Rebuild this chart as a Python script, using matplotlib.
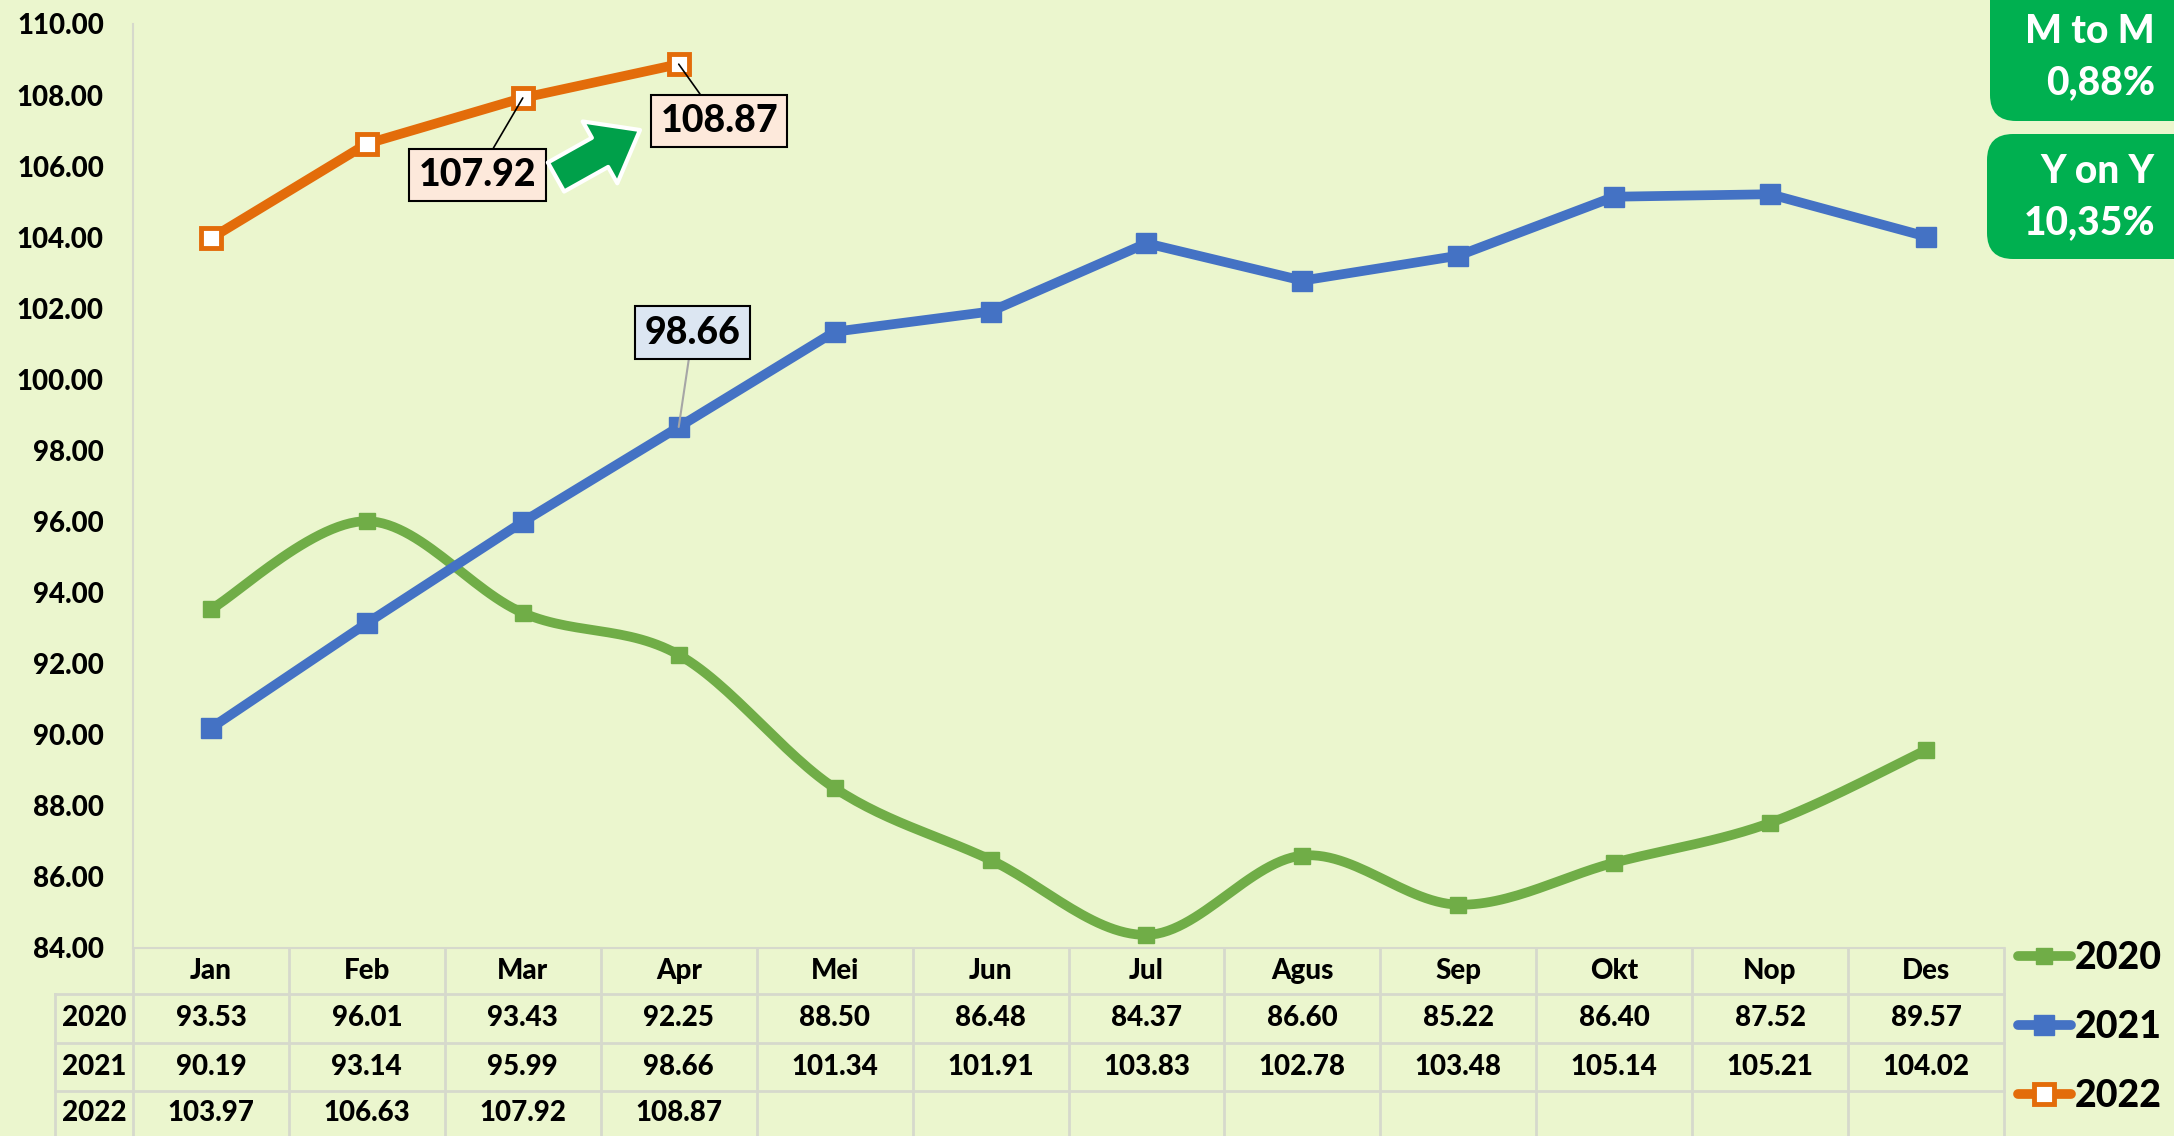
import numpy as np
import matplotlib
matplotlib.use("Agg")
import matplotlib.pyplot as plt
from matplotlib import font_manager
from matplotlib.lines import Line2D
from matplotlib.patches import FancyBboxPatch
from matplotlib.transforms import blended_transform_factory

months = ["Jan", "Feb", "Mar", "Apr", "Mei", "Jun", "Jul", "Agus", "Sep", "Okt", "Nop", "Des"]
v2020 = [93.53, 96.01, 93.43, 92.25, 88.50, 86.48, 84.37, 86.60, 85.22, 86.40, 87.52, 89.57]
v2021 = [90.19, 93.14, 95.99, 98.66, 101.34, 101.91, 103.83, 102.78, 103.48, 105.14, 105.21, 104.02]
v2022 = [103.97, 106.63, 107.92, 108.87]
years = ["2020", "2021", "2022"]
yticks = [84, 86, 88, 90, 92, 94, 96, 98, 100, 102, 104, 106, 108, 110]
mtm_text = "M to M\n0,88%"
yoy_text = "Y on Y\n10,35%"

BG = "#EBF6CE"
GREEN = "#70AD47"
BLUE = "#4472C4"
ORANGE = "#E36C0A"
GRID = "#D6D9CC"
FONT = "Lato"

# pick heaviest available Lato weight (up to 900)
weights = []
for f in font_manager.fontManager.ttflist:
    if f.name == FONT and f.style == "normal":
        w = f.weight if isinstance(f.weight, int) else 400
        weights.append(w)
WT = "bold"
if weights:
    heavy = [w for w in weights if w >= 800]
    WT = max(heavy) if heavy else max(weights)

plt.rcParams["font.family"] = [FONT, "DejaVu Sans"]
plt.rcParams["font.weight"] = WT

W, H = 2174, 1136
fig = plt.figure(figsize=(W / 100, H / 100), dpi=100, facecolor=BG)

def fx(px):
    return px / W

def fy(py):
    return 1 - py / H

ax_l, ax_r, ax_t, ax_b = 133, 2004, 24, 948
ax = fig.add_axes([fx(ax_l), fy(ax_b), fx(ax_r) - fx(ax_l), fy(ax_t) - fy(ax_b)])
ax.set_facecolor(BG)

x = np.arange(len(months))


def smooth(xs, ys, n=30):
    xs = np.asarray(xs, float)
    ys = np.asarray(ys, float)
    P = np.column_stack([xs, ys])
    Pe = np.vstack([P[0], P, P[-1]])
    out = []
    for i in range(len(P) - 1):
        p0, p1, p2, p3 = Pe[i], Pe[i + 1], Pe[i + 2], Pe[i + 3]
        c1 = p1 + (p2 - p0) / 6
        c2 = p2 - (p3 - p1) / 6
        t = np.linspace(0, 1, n)[:, None]
        seg = ((1 - t) ** 3) * p1 + 3 * ((1 - t) ** 2) * t * c1 + 3 * (1 - t) * t ** 2 * c2 + t ** 3 * p2
        out.append(seg if i == 0 else seg[1:])
    out = np.vstack(out)
    return out[:, 0], out[:, 1]

lw = 7.0
ms = 14
sx, sy = smooth(x, v2020)
ax.plot(sx, sy, color=GREEN, lw=lw, solid_capstyle="round", zorder=3)
ax.plot(x, v2020, ls="none", marker="s", ms=ms * 0.85, color=GREEN, zorder=4)
ax.plot(x, v2021, color=BLUE, lw=lw, marker="s", ms=ms, zorder=5, solid_joinstyle="round")
ax.plot(x[:len(v2022)], v2022, color=ORANGE, lw=lw, marker="s", ms=ms,
        mfc="white", mec=ORANGE, mew=3.5, zorder=6, solid_joinstyle="round")

ax.set_xlim(-0.5, len(months) - 0.5)
ax.set_ylim(yticks[0], yticks[-1])
ax.set_yticks(yticks)
ax.set_yticklabels([f"{t:.2f}" for t in yticks], fontsize=20, fontweight=WT)
ax.tick_params(axis="y", length=0, pad=21)
ax.set_xticks([])
for s in ["top", "right"]:
    ax.spines[s].set_visible(False)
ax.spines["left"].set_color(GRID)
ax.spines["left"].set_linewidth(1.5)
ax.spines["bottom"].set_color(GRID)
ax.spines["bottom"].set_linewidth(1.5)

# Data label annotations
bbox_orange = dict(boxstyle="square,pad=0.25", fc="#FDE9DB", ec="black", lw=1.5)
bbox_blue = dict(boxstyle="square,pad=0.25", fc="#DCE6F2", ec="black", lw=1.5)
ax.annotate(f"{v2022[2]:.2f}", xy=(2, v2022[2]), xytext=(1.71, 105.75), fontsize=27,
            fontweight=WT, ha="center", va="center", bbox=bbox_orange,
            arrowprops=dict(arrowstyle="-", color="black", lw=1.2, shrinkA=0, shrinkB=0), zorder=8)
ax.annotate(f"{v2022[3]:.2f}", xy=(3, v2022[3]), xytext=(3.26, 107.27), fontsize=27,
            fontweight=WT, ha="center", va="center", bbox=bbox_orange,
            arrowprops=dict(arrowstyle="-", color="black", lw=1.2, shrinkA=0, shrinkB=0), zorder=8)
ax.annotate(f"{v2021[3]:.2f}", xy=(3, v2021[3]), xytext=(3.09, 101.31), fontsize=27,
            fontweight=WT, ha="center", va="center", bbox=bbox_blue,
            arrowprops=dict(arrowstyle="-", color="#A6A6A6", lw=1.5, shrinkA=0, shrinkB=0), zorder=8)

# Green arrow
ax.annotate("", xy=(fx(640), fy(130)), xytext=(fx(556), fy(177)),
            xycoords="figure fraction", textcoords="figure fraction",
            arrowprops=dict(arrowstyle="simple,head_length=1.1,head_width=1.7,tail_width=0.8",
                            fc="#00A04A", ec="white", lw=3, shrinkA=0, shrinkB=0,
                            mutation_scale=30), zorder=9)

# Table
trans = blended_transform_factory(ax.transData, fig.transFigure)
rows_y = [948, 994, 1043, 1091, 1140]
cw = (ax_r - ax_l) / len(months)
lkw = dict(color=GRID, lw=2, zorder=1)
for i, py in enumerate(rows_y[1:4]):
    fig.add_artist(Line2D([fx(55), fx(ax_r)], [fy(py), fy(py)], **lkw))
fig.add_artist(Line2D([fx(55), fx(55)], [fy(994), fy(1136)], **lkw))
fig.add_artist(Line2D([fx(ax_l), fx(ax_l)], [fy(948), fy(1136)], **lkw))
for k in range(1, len(months) + 1):
    xp = ax_l + k * cw
    fig.add_artist(Line2D([fx(xp), fx(xp)], [fy(948), fy(1136)], **lkw))

tfs = 20
centers = [(rows_y[i] + rows_y[i + 1]) / 2 for i in range(4)]
centers[3] = 1113
for i, m in enumerate(months):
    fig.text(i, fy(centers[0]), m, transform=trans, ha="center", va="center", fontsize=tfs, fontweight=WT)
for r, (yr, vals) in enumerate(zip(years, [v2020, v2021, v2022])):
    yc = fy(centers[r + 1])
    fig.text(fx(94), yc, yr, ha="center", va="center", fontsize=tfs, fontweight=WT)
    for i, v in enumerate(vals):
        fig.text(i, yc, f"{v:.2f}", transform=trans, ha="center", va="center", fontsize=tfs, fontweight=WT)

# Legend
handles = [
    Line2D([], [], color=GREEN, lw=lw, marker="s", ms=ms * 0.85, solid_capstyle="round"),
    Line2D([], [], color=BLUE, lw=lw, marker="s", ms=ms, solid_capstyle="round"),
    Line2D([], [], color=ORANGE, lw=lw, marker="s", ms=ms, mfc="white", mec=ORANGE, mew=3.5, solid_capstyle="round"),
]
fig.legend(handles, years, loc="center left", bbox_to_anchor=(fx(2018), fy(1027)),
           frameon=False, prop=dict(family=FONT, weight=WT, size=27),
           handlelength=1.4, handletextpad=0.1, labelspacing=0.93, borderpad=0, borderaxespad=0)

# Green info boxes
for (x0, y0, x1, y1, txt, ty) in [(1990, -30, 2200, 121, mtm_text, 57), (1987, 134, 2200, 259, yoy_text, 197)]:
    box = FancyBboxPatch((fx(x0), fy(y1)), fx(x1) - fx(x0), fy(y0) - fy(y1),
                         boxstyle="round,pad=0,rounding_size=0.012", transform=fig.transFigure,
                         fc="#00B050", ec="none", zorder=10, mutation_aspect=W / H)
    fig.add_artist(box)
    fig.text(fx(2155), fy(ty), txt, ha="right", va="center", fontsize=28, fontweight=WT,
             color="white", linespacing=1.45, zorder=11)

fig.savefig("out.png", dpi=100, facecolor=BG)
